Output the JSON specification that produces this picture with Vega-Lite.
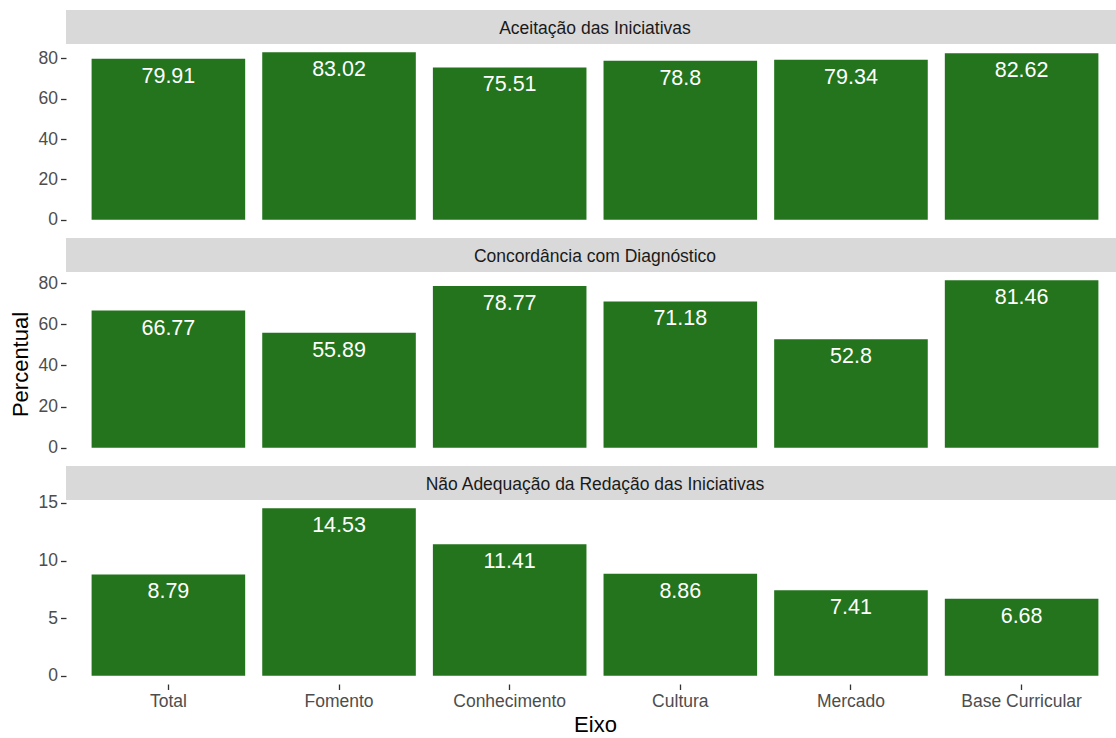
{
  "$schema": "https://vega.github.io/schema/vega-lite/v6.json",
  "background": "white",
  "padding": {"left": 9, "top": 10, "right": 0, "bottom": 0},
  "datasets": {
    "dados": [
      {"painel": "Aceitação das Iniciativas", "eixo": "Total", "valor": 79.91},
      {"painel": "Aceitação das Iniciativas", "eixo": "Fomento", "valor": 83.02},
      {"painel": "Aceitação das Iniciativas", "eixo": "Conhecimento", "valor": 75.51},
      {"painel": "Aceitação das Iniciativas", "eixo": "Cultura", "valor": 78.8},
      {"painel": "Aceitação das Iniciativas", "eixo": "Mercado", "valor": 79.34},
      {"painel": "Aceitação das Iniciativas", "eixo": "Base Curricular", "valor": 82.62},
      {"painel": "Concordância com Diagnóstico", "eixo": "Total", "valor": 66.77},
      {"painel": "Concordância com Diagnóstico", "eixo": "Fomento", "valor": 55.89},
      {"painel": "Concordância com Diagnóstico", "eixo": "Conhecimento", "valor": 78.77},
      {"painel": "Concordância com Diagnóstico", "eixo": "Cultura", "valor": 71.18},
      {"painel": "Concordância com Diagnóstico", "eixo": "Mercado", "valor": 52.8},
      {"painel": "Concordância com Diagnóstico", "eixo": "Base Curricular", "valor": 81.46},
      {"painel": "Não Adequação da Redação das Iniciativas", "eixo": "Total", "valor": 8.79},
      {"painel": "Não Adequação da Redação das Iniciativas", "eixo": "Fomento", "valor": 14.53},
      {"painel": "Não Adequação da Redação das Iniciativas", "eixo": "Conhecimento", "valor": 11.41},
      {"painel": "Não Adequação da Redação das Iniciativas", "eixo": "Cultura", "valor": 8.86},
      {"painel": "Não Adequação da Redação das Iniciativas", "eixo": "Mercado", "valor": 7.41},
      {"painel": "Não Adequação da Redação das Iniciativas", "eixo": "Base Curricular", "valor": 6.68}
    ]
  },
  "config": {
    "view": {"stroke": null},
    "font": "Liberation Sans",
    "axis": {
      "grid": false,
      "domain": false,
      "labelFont": "Liberation Sans",
      "titleFont": "Liberation Sans",
      "labelFontSize": 17.5,
      "labelColor": "#4D4D4D",
      "tickColor": "#333333",
      "tickSize": 5.5,
      "tickWidth": 1.3,
      "labelPadding": 3,
      "titleFontSize": 22,
      "titleFontWeight": "normal",
      "titleColor": "#000000"
    }
  },
  "spacing": 0,
  "bounds": "flush",
  "vconcat": [
    {
      "width": 1058, "height": 34,
      "data": {"name": "dados"},
      "transform": [{"filter": "datum.painel === 'Aceitação das Iniciativas' && datum.eixo === 'Total'"}],
      "layer": [
        {"mark": {"type": "rect", "color": "#D9D9D9"},
         "encoding": {"x": {"value": 0}, "x2": {"value": "width"}, "y": {"value": 0}, "y2": {"value": "height"}}},
        {"mark": {"type": "text", "fontSize": 17.5, "color": "#1A1A1A", "baseline": "middle", "align": "center", "dy": 2},
         "encoding": {"text": {"field": "painel"}}}
      ]
    },
    {
      "width": 1058, "height": 184,
      "data": {"name": "dados"},
      "transform": [{"filter": "datum.painel === 'Aceitação das Iniciativas'"}],
      "encoding": {
        "x": {"field": "eixo", "type": "nominal", "axis": null,
              "scale": {"domain": ["Total", "Fomento", "Conhecimento", "Cultura", "Mercado", "Base Curricular"], "paddingInner": 0.1, "paddingOuter": 0.15}},
        "y": {"field": "valor", "type": "quantitative",
              "scale": {"domain": [-4.151, 87.171], "nice": false, "zero": false},
              "axis": {"values": [0, 20, 40, 60, 80], "title": null}}
      },
      "layer": [
        {"mark": {"type": "bar", "color": "#23741D"}, "encoding": {"y2": {"datum": 0}}},
        {"mark": {"type": "text", "color": "white", "fontSize": 21.5, "baseline": "middle", "dy": 18},
         "encoding": {"text": {"field": "valor"}}}
      ]
    },
    {
      "width": 1058, "height": 10,
      "data": {"name": "dados"},
      "transform": [{"filter": "false"}],
      "mark": {"type": "point", "opacity": 0},
      "encoding": {}
    },
    {
      "width": 1058, "height": 34,
      "data": {"name": "dados"},
      "transform": [{"filter": "datum.painel === 'Concordância com Diagnóstico' && datum.eixo === 'Total'"}],
      "layer": [
        {"mark": {"type": "rect", "color": "#D9D9D9"},
         "encoding": {"x": {"value": 0}, "x2": {"value": "width"}, "y": {"value": 0}, "y2": {"value": "height"}}},
        {"mark": {"type": "text", "fontSize": 17.5, "color": "#1A1A1A", "baseline": "middle", "align": "center", "dy": 2},
         "encoding": {"text": {"field": "painel"}}}
      ]
    },
    {
      "width": 1058, "height": 184,
      "data": {"name": "dados"},
      "transform": [{"filter": "datum.painel === 'Concordância com Diagnóstico'"}],
      "encoding": {
        "x": {"field": "eixo", "type": "nominal", "axis": null,
              "scale": {"domain": ["Total", "Fomento", "Conhecimento", "Cultura", "Mercado", "Base Curricular"], "paddingInner": 0.1, "paddingOuter": 0.15}},
        "y": {"field": "valor", "type": "quantitative",
              "scale": {"domain": [-4.073, 85.533], "nice": false, "zero": false},
              "axis": {"values": [0, 20, 40, 60, 80], "title": "Percentual", "titlePadding": 6}}
      },
      "layer": [
        {"mark": {"type": "bar", "color": "#23741D"}, "encoding": {"y2": {"datum": 0}}},
        {"mark": {"type": "text", "color": "white", "fontSize": 21.5, "baseline": "middle", "dy": 18},
         "encoding": {"text": {"field": "valor"}}}
      ]
    },
    {
      "width": 1058, "height": 10,
      "data": {"name": "dados"},
      "transform": [{"filter": "false"}],
      "mark": {"type": "point", "opacity": 0},
      "encoding": {}
    },
    {
      "width": 1058, "height": 34,
      "data": {"name": "dados"},
      "transform": [{"filter": "datum.painel === 'Não Adequação da Redação das Iniciativas' && datum.eixo === 'Total'"}],
      "layer": [
        {"mark": {"type": "rect", "color": "#D9D9D9"},
         "encoding": {"x": {"value": 0}, "x2": {"value": "width"}, "y": {"value": 0}, "y2": {"value": "height"}}},
        {"mark": {"type": "text", "fontSize": 17.5, "color": "#1A1A1A", "baseline": "middle", "align": "center", "dy": 2},
         "encoding": {"text": {"field": "painel"}}}
      ]
    },
    {
      "width": 1058, "height": 184,
      "data": {"name": "dados"},
      "transform": [{"filter": "datum.painel === 'Não Adequação da Redação das Iniciativas'"}],
      "encoding": {
        "x": {"field": "eixo", "type": "nominal",
              "scale": {"domain": ["Total", "Fomento", "Conhecimento", "Cultura", "Mercado", "Base Curricular"], "paddingInner": 0.1, "paddingOuter": 0.15},
              "axis": {"title": "Eixo", "labelAngle": 0, "titlePadding": 4}},
        "y": {"field": "valor", "type": "quantitative",
              "scale": {"domain": [-0.7265, 15.2565], "nice": false, "zero": false},
              "axis": {"values": [0, 5, 10, 15], "title": null}}
      },
      "layer": [
        {"mark": {"type": "bar", "color": "#23741D"}, "encoding": {"y2": {"datum": 0}}},
        {"mark": {"type": "text", "color": "white", "fontSize": 21.5, "baseline": "middle", "dy": 18},
         "encoding": {"text": {"field": "valor"}}}
      ]
    }
  ]
}
